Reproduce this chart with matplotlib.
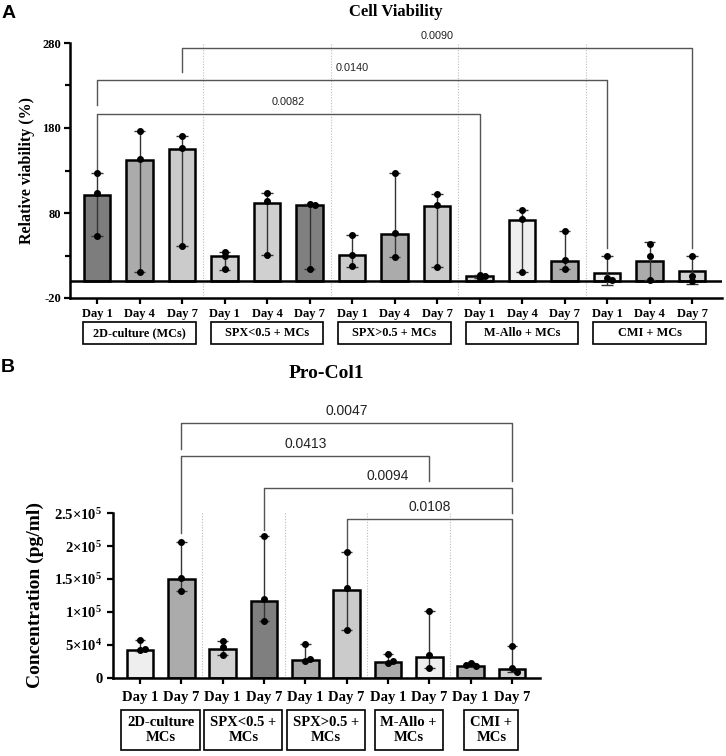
import numpy as np
import matplotlib
matplotlib.use('Agg')
import matplotlib.pyplot as plt
from matplotlib.patches import Rectangle
from matplotlib.transforms import blended_transform_factory
from matplotlib.ticker import FixedLocator

plt.rcParams['mathtext.fontset'] = 'custom'
plt.rcParams['mathtext.rm'] = 'Liberation Serif:bold'
plt.rcParams['mathtext.default'] = 'rm'
plt.rcParams['axes.unicode_minus'] = False

SERIF = ['Liberation Serif', 'DejaVu Serif']
SANS = ['Liberation Sans', 'DejaVu Sans']

# ---------------- panel A : cell viability (%) ----------------
groups_a = ['2D-culture (MCs)', 'SPX<0.5 + MCs', 'SPX>0.5 + MCs', 'M-Allo + MCs', 'CMI + MCs']
days_a = ['Day 1', 'Day 4', 'Day 7']
viab_bar = [101, 142, 155, 29, 92, 89, 31, 55, 88, 6, 72, 23, 10, 23, 12]
viab_lo = [53, 11, 41, 13, 31, 14, 17, 28, 16, 3, 11, 14, -5, 1, -3]
viab_hi = [127, 177, 171, 34, 104, 91, 54, 127, 102, 7, 83, 59, 30, 46, 30]
viab_pts = [
    [127, 104, 53], [177, 143, 11], [171, 156, 41],
    [34, 29, 14], [104, 94, 31], [91, 89, 14],
    [54, 31, 18], [127, 56, 28], [102, 89, 16],
    [7, 6, 3], [83, 73, 11], [59, 25, 14],
    [30, 3, 1], [44, 29, 1], [30, 6, 0],
]
viab_col = ['#7d7d7d', '#ababab', '#cbcbcb',
            '#d0d0d0', '#d0d0d0', '#808080',
            '#cbcbcb', '#ababab', '#cbcbcb',
            '#d3d3d3', '#efefef', '#ababab',
            '#eeeeee', '#ababab', '#d3d3d3']
# (left bar, right bar, p value)
pairs_a = [(2, 14, '0.0090'), (0, 12, '0.0140'), (0, 9, '0.0082')]

# ---------------- panel B : Pro-Col1 (pg/ml) ----------------
groups_b = ['2D-culture\nMCs', 'SPX<0.5 +\nMCs', 'SPX>0.5 +\nMCs', 'M-Allo +\nMCs', 'CMI +\nMCs']
days_b = ['Day 1', 'Day 7']
col_bar = [42000, 150000, 43000, 117000, 27000, 134000, 24000, 32000, 18000, 12700]
col_lo = [41000, 131000, 34500, 86000, 25000, 72500, 22800, 14300, 18000, 8700]
col_hi = [57500, 206000, 55700, 215000, 51700, 191000, 35500, 102000, 22800, 48600]
col_pts = [
    [57500, 42000, 43000], [206000, 151000, 131000],
    [55700, 47000, 34500], [215000, 119000, 86000],
    [51700, 25400, 28400], [191000, 136000, 72500],
    [35500, 22800, 25400], [102000, 34500, 14300],
    [22800, 18500, 19000], [48600, 14300, 8700],
]
col_col = ['#eeeeee', '#ababab', '#d3d3d3', '#7f7f7f', '#ababab',
           '#cbcbcb', '#ababab', '#eeeeee', '#ababab', '#d3d3d3']
pairs_b = [(1, 9, '0.0047'), (1, 7, '0.0413'), (3, 9, '0.0094'), (5, 9, '0.0108')]
col_ticks = [0, 5e4, 1e5, 1.5e5, 2e5, 2.5e5]
col_ticklabels = ['0', '5×10$^{4}$', '1×10$^{5}$', '1.5×10$^{5}$', '2×10$^{5}$', '2.5×10$^{5}$']

W, H = 726, 756
fig = plt.figure(figsize=(W / 100, H / 100), dpi=100, facecolor='white')


def fx(px):
    return px / W


def fy(py):
    return 1 - py / H


def spread(vals, thr):
    # push nearly overlapping dots sideways
    offs = []
    for k, v in enumerate(vals):
        o = 0.0
        for pv, po in zip(vals[:k], offs):
            if abs(pv - v) < thr and po == o:
                o = 0.12 if o <= 0 else -0.12
        offs.append(o)
    return offs


def draw_bars(ax, bars, lo, hi, pts, cols, width, thr):
    x = np.arange(len(bars))
    ax.bar(x, bars, width=width, color=cols, edgecolor='black', linewidth=1.8, zorder=2)
    ax.vlines(x, lo, hi, color='#333333', lw=1.0, zorder=3)
    ax.hlines(lo, x - 0.13, x + 0.13, color='#333333', lw=1.0, zorder=3)
    ax.hlines(hi, x - 0.13, x + 0.13, color='#333333', lw=1.0, zorder=3)
    for i, p in enumerate(pts):
        offs = spread(p, thr)
        ax.scatter(i + np.array(offs), p, s=16, color='black', zorder=4, clip_on=False)


def bracket(ax, i, j, y, yi, yj, label, fs):
    ax.plot([i, i, j, j], [yi, y, y, yj], color='#555555', lw=1.0, zorder=1, clip_on=False)
    ax.annotate(label, xy=((i + j) / 2, y), xytext=(0, 8.6), textcoords='offset points',
                ha='center', va='center', fontsize=fs, family=SANS, color='#222222',
                annotation_clip=False)


def style_axes(ax):
    for s in ['top', 'right']:
        ax.spines[s].set_visible(False)
    for s in ['left', 'bottom']:
        ax.spines[s].set_linewidth(1.8)
    ax.tick_params(which='major', direction='out', length=4.5, width=1.6)
    ax.tick_params(which='minor', direction='out', length=3.5, width=1.6)


# ================= panel A =================
axA = fig.add_axes([fx(70), fy(298), (722 - 70) / W, (298 - 43) / H])
axA.set_xlim((70 - 97) / 42.5, (722 - 97) / 42.5)
axA.set_ylim(-20, 280)
style_axes(axA)
draw_bars(axA, viab_bar, viab_lo, viab_hi, viab_pts, viab_col, 0.63, 4)
axA.axhline(0, color='black', lw=1.8, zorder=2)
axA.vlines([2.5, 5.5, 8.5, 11.5], -20, 280, colors='#bbbbbb', linestyles=(0, (1, 1.5)), lw=0.8, zorder=0)

axA.yaxis.set_major_locator(FixedLocator([-20, 80, 180, 280]))
axA.yaxis.set_minor_locator(FixedLocator([30, 130, 230]))
axA.set_xticks(np.arange(len(viab_bar)))
axA.set_xticklabels(days_a * len(groups_a))
for lab in axA.get_xticklabels() + axA.get_yticklabels():
    lab.set_family(SERIF)
    lab.set_fontweight('bold')
    lab.set_fontsize(9)
axA.tick_params(axis='x', pad=3)
axA.tick_params(axis='y', pad=2)

brA = [(274, 246, 39), (236, 207, 39), (197, 132, 9)]
for (i, j, p), (y, yi, yj) in zip(pairs_a, brA):
    bracket(axA, i, j, y, yi, yj, p, 7.8)

trA = blended_transform_factory(axA.transData, fig.transFigure)
for g, name in enumerate(groups_a):
    cx = g * 3 + 1
    axA.add_patch(Rectangle((cx - 1.32, fy(344)), 2.64, 22 / H, transform=trA,
                            fill=False, edgecolor='black', lw=1.2, clip_on=False))
    axA.text(cx, fy(333), name, transform=trA, ha='center', va='center',
             family=SERIF, fontweight='bold', fontsize=8.8)

fig.text(fx(396), fy(12), 'Cell Viability', ha='center', va='center',
         family=SERIF, fontweight='bold', fontsize=12)
fig.text(fx(27), fy(170), 'Relative viability (%)', rotation=90, ha='center', va='center',
         family=SERIF, fontweight='bold', fontsize=11.5)
fig.text(fx(2), fy(13), 'A', ha='left', va='center', family=SANS, fontweight='bold', fontsize=14)

# ================= panel B =================
axB = fig.add_axes([fx(113), fy(677.7), (540 - 113) / W, (677.7 - 401.3) / H])
axB.set_xlim((113 - 140) / 41.33, (540 - 140) / 41.33)
axB.set_ylim(0, 4.2e5)
style_axes(axB)
axB.spines['left'].set_bounds(0, 2.5e5)
draw_bars(axB, col_bar, col_lo, col_hi, col_pts, col_col, 0.65, 6000)
axB.vlines([1.5, 3.5, 5.5, 7.5], 0, 2.5e5, colors='#bbbbbb', linestyles=(0, (1, 1.5)), lw=0.8, zorder=0)

axB.set_yticks(col_ticks)
axB.set_yticklabels(col_ticklabels)
axB.set_xticks(np.arange(len(col_bar)))
axB.set_xticklabels(days_b * len(groups_b))
for lab in axB.get_xticklabels() + axB.get_yticklabels():
    lab.set_family(SERIF)
    lab.set_fontweight('bold')
    lab.set_fontsize(10.5)
axB.tick_params(axis='x', pad=5)
axB.tick_params(axis='y', pad=3)

brB = [(386600, 347000, 299000), (337000, 220000, 299000),
       (288800, 224500, 250800), (240700, 196700, 52700)]
for (i, j, p), (y, yi, yj) in zip(pairs_b, brB):
    bracket(axB, i, j, y, yi, yj, p, 10)

trB = blended_transform_factory(axB.transData, fig.transFigure)
for g, name in enumerate(groups_b):
    axB.text(g * 2 + 0.5, fy(729.7), name, transform=trB, ha='center', va='center',
             family=SERIF, fontweight='bold', fontsize=10.5, linespacing=1.2,
             bbox=dict(boxstyle='square,pad=0.4', fc='white', ec='black', lw=1.2))

fig.text(fx(326), fy(374), 'Pro-Col1', ha='center', va='center',
         family=SERIF, fontweight='bold', fontsize=14)
fig.text(fx(35), fy(595), 'Concentration (pg/ml)', rotation=90, ha='center', va='center',
         family=SERIF, fontweight='bold', fontsize=14)
fig.text(fx(1), fy(368), 'B', ha='left', va='center', family=SANS, fontweight='bold', fontsize=14)

fig.savefig('out.png', dpi=100, facecolor='white')
